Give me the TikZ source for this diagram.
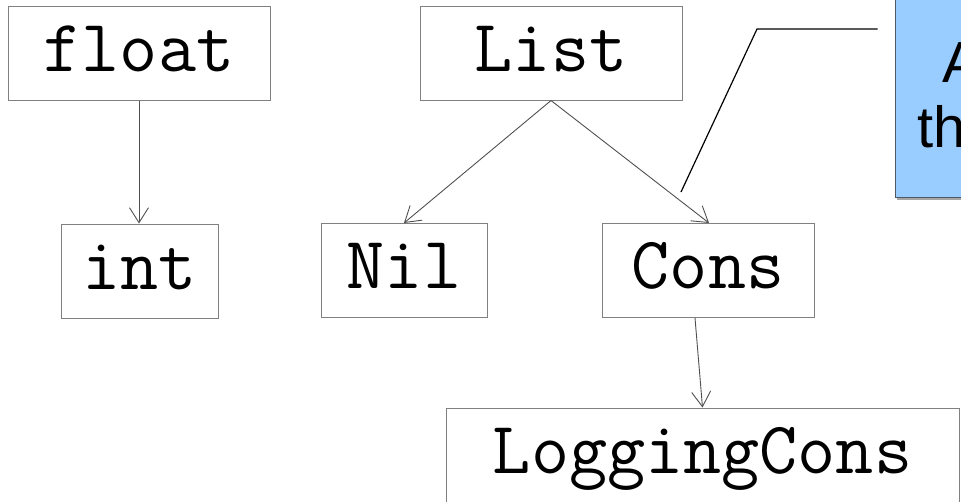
\documentclass[tikz,border=0pt]{standalone}
\usepackage{fontspec}
\newfontfamily\notefam{Liberation Sans}
\usetikzlibrary{arrows.meta}
\definecolor{boxgray}{HTML}{808080}
\definecolor{arrgray}{HTML}{505050}
\definecolor{noteblue}{HTML}{99CCFF}
\definecolor{noteedge}{HTML}{4D5A66}
\tikzset{
  typebox/.style={draw=boxgray, line width=1pt, fill=white, inner sep=0pt,
    minimum height=94pt, text height=47pt, text depth=11pt,
    font=\ttfamily\fontsize{74}{74}\selectfont},
  inh/.style={draw=arrgray, line width=0.9pt,
    -{Straight Barb[length=15pt,width=19pt,line width=0.9pt]}},
  notetext/.style={inner sep=0pt, font=\notefam\fontsize{58}{58}\selectfont},
  leader/.style={draw=black, line width=1.2pt}
}
\begin{document}
\begin{tikzpicture}[x=1pt,y=-1pt]
\useasboundingbox (0,0) rectangle (961,501);
\begin{scope}
\clip (0,0) rectangle (961,501);
% callout box
\fill[black!35] (897,-20) rectangle (1000,199.5);
\node[draw=noteedge, line width=1pt, fill=noteblue, inner sep=0pt,
      minimum width=105pt, minimum height=237pt] (note) at (947.5,78.5) {};
\node[notetext, anchor=base west] (na) at (942,82) {A};
\node[notetext, anchor=base west] (nb) at (917,147) {th};
% type boxes
\node[typebox, minimum width=262pt] (float) at (139,53) {float};
\node[typebox, minimum width=157pt] (int) at (139.5,271) {int};
\node[typebox, minimum width=262pt] (list) at (551,53) {List};
\node[typebox, minimum width=166pt] (nil) at (404,270.5) {Nil};
\node[typebox, minimum width=212pt] (cons) at (708,270.5) {Cons};
\node[typebox, minimum width=513pt] (logcons) at (702.5,455) {LoggingCons};
% inheritance arrows
\draw[inh] (float.south) -- (int.north -| float.south);
\draw[inh] (list.south) -- (nil.north);
\draw[inh] (list.south) -- ([xshift=1pt]cons.north);
\draw[inh] ([xshift=-13pt]cons.south) -- (logcons.north);
% callout leader
\coordinate (tip) at (681,192);
\coordinate (bend) at (757,29);
\draw[leader] (tip) -- (bend) -- ([xshift=-17pt]note.west |- bend);
\end{scope}
\end{tikzpicture}
\end{document}
